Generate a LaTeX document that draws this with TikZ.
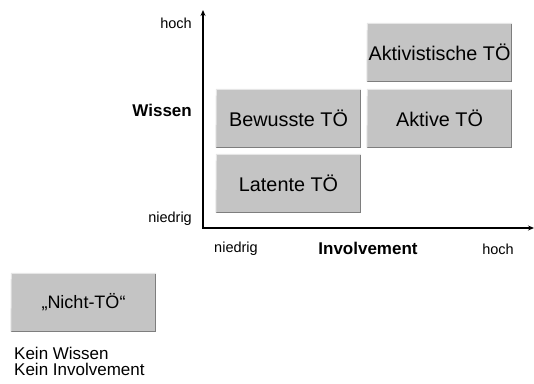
\documentclass[tikz,border=0pt]{standalone}
\usepackage{fontspec}
\setmainfont{Liberation Sans}
\usetikzlibrary{arrows.meta}
\definecolor{boxfill}{HTML}{C4C4C4}
\definecolor{boxdark}{HTML}{7E7E7E}
\definecolor{boxlight}{HTML}{E6E6E6}
\tikzset{
  tbox/.style={rectangle, fill=boxfill, draw=none, minimum width=145pt, minimum height=59pt, inner sep=0pt, font=\fontsize{19.8}{23}\selectfont},
  axis/.style={line width=1.4pt, -{Stealth[length=6pt,width=5pt]}},
  small/.style={font=\fontsize{14.5}{17}\selectfont, inner sep=0pt},
  boldlab/.style={font=\fontsize{17}{20}\selectfont\bfseries, inner sep=0pt},
  note/.style={font=\fontsize{17}{20}\selectfont, inner sep=0pt, anchor=base west},
}
\newcommand{\shadebox}[1]{%
  \draw[boxdark, line width=1.6pt] ([xshift=-0.8pt]#1.north east) -- ([xshift=-0.8pt,yshift=0.8pt]#1.south east) -- ([yshift=0.8pt]#1.south west);
  \draw[boxlight, line width=1pt] ([yshift=0.5pt]#1.south west) -- ([xshift=0.5pt,yshift=-0.5pt]#1.north west) -- ([yshift=-0.5pt]#1.north east);
}
\begin{document}
\begin{tikzpicture}[x=1pt,y=-1pt]
\useasboundingbox (0,0) rectangle (534,383);
% boxes
\node[tbox] (akt) at (439.5,52.5) {Aktivistische TÖ};
\node[tbox] (bew) at (288.5,118.5) {Bewusste TÖ};
\node[tbox] (aktv) at (439.5,118.5) {Aktive TÖ};
\node[tbox] (lat) at (288.5,183.5) {Latente TÖ};
\node[tbox, font=\fontsize{18}{21}\selectfont] (nicht) at (83.5,302.5) {„Nicht-TÖ“};
\shadebox{akt}\shadebox{bew}\shadebox{aktv}\shadebox{lat}\shadebox{nicht}
% axes
\coordinate (o) at (203,228);
\coordinate (ytop) at (203,10);
\coordinate (xend) at (534,228);
\draw[axis] (o) -- (ytop);
\draw[axis] ([xshift=-0.7pt]o) -- (xend);
% axis labels
\node[small, anchor=east] (yhoch) at (192,23) {hoch};
\node[small, anchor=east] (yniedrig) at (192,219) {niedrig};
\node[boldlab, anchor=east] (wissen) at (192,110) {Wissen};
\node[small] (xniedrig) at (236,249) {niedrig};
\node[boldlab] (invol) at (368,248) {Involvement};
\node[small] (xhoch) at (498,249) {hoch};
% note
\node[note] (kein1) at (14,359) {Kein Wissen};
\node[note] (kein2) at (14,375) {Kein Involvement};
\end{tikzpicture}
\end{document}
